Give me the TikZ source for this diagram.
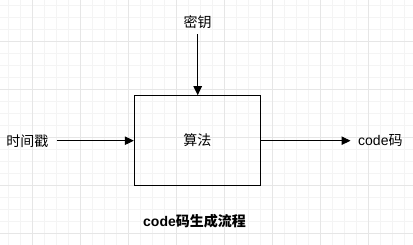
\documentclass[tikz,border=0pt]{standalone}
\usepackage{fontspec}
\setmainfont{Liberation Sans}
\newfontfamily\cjk{Noto Sans CJK SC}
\newfontfamily\cjkbold{Noto Sans CJK SC Bold}
\usetikzlibrary{arrows.meta}
\definecolor{gridmajor}{HTML}{E6E6E6}
\definecolor{gridminor}{HTML}{F4F4F4}
\tikzset{
  label text/.style={inner sep=0pt, font=\fontsize{14pt}{16pt}\selectfont},
  process box/.style={draw=black, line width=1pt, minimum width=126pt, minimum height=89.6pt, inner sep=0pt, font=\fontsize{14pt}{16pt}\selectfont},
  flow/.style={line width=1pt, -{Triangle[length=9pt,width=8.5pt]}},
}
\begin{document}
\begin{tikzpicture}[x=1pt, y=-1pt]
  \useasboundingbox (0,0) rectangle (413,245);
  \fill[white] (0,0) rectangle (413,245);
  % background grid: fine lines every 12, stronger every 48
  \foreach \gx in {8.3,20.3,...,413} \draw[gridminor, line width=0.8pt] (\gx,0) -- (\gx,245);
  \foreach \gy in {5.3,17.3,...,245} \draw[gridminor, line width=0.8pt] (0,\gy) -- (413,\gy);
  \foreach \gx in {32.3,80.3,...,413} \draw[gridmajor, line width=0.9pt] (\gx,0) -- (\gx,245);
  \foreach \gy in {41.3,89.3,...,245} \draw[gridmajor, line width=0.9pt] (0,\gy) -- (413,\gy);

  \node[process box] (algo) at (197.3,140.5) {\cjk 算法};
  \node[label text] (key) at (197.7,22) {\cjk 密钥};
  \node[label text, anchor=east] (stamp) at (48.5,141) {\cjk 时间戳};
  \node[label text, anchor=west] (code) at (358,141) {code\cjk 码};
  \node[label text] (title) at (194.5,221) {\bfseries code\cjkbold 码生成流程};

  \coordinate (keyend) at (197.7,34.3);
  \coordinate (stampend) at (56.7,140.7);
  \coordinate (codeend) at (350.5,140.7);

  \draw[flow] (keyend) -- (algo.north -| keyend);
  \draw[flow] (stampend) -- (algo.west |- stampend);
  \draw[flow] (algo.east |- codeend) -- (codeend);
\end{tikzpicture}
\end{document}
